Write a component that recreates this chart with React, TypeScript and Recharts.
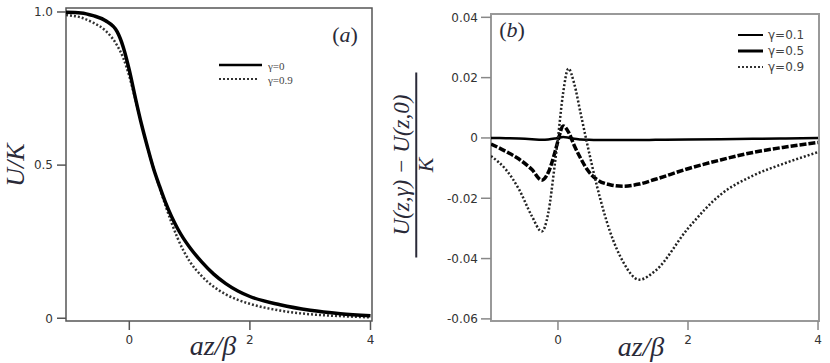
import { LineChart, Line, XAxis, YAxis, ReferenceArea } from "recharts";

// panel (a): U/K against az/beta
const zA = [-1.05, -0.8, -0.6, -0.4, -0.2, -0.1, 0, 0.1, 0.2, 0.3, 0.4, 0.5, 0.6, 0.7, 0.8, 0.9, 1.0, 1.2, 1.4, 1.6, 1.8, 2.0, 2.5, 3.0, 3.5, 4.0];
const uGamma0 = [0.999, 0.997, 0.988, 0.972, 0.935, 0.885, 0.81, 0.72, 0.635, 0.56, 0.49, 0.432, 0.378, 0.332, 0.293, 0.26, 0.232, 0.184, 0.144, 0.113, 0.089, 0.071, 0.044, 0.026, 0.015, 0.0085];
const uGamma09 = [0.99, 0.982, 0.965, 0.94, 0.89, 0.85, 0.79, 0.715, 0.635, 0.56, 0.49, 0.428, 0.368, 0.312, 0.262, 0.22, 0.186, 0.138, 0.103, 0.078, 0.06, 0.047, 0.025, 0.013, 0.007, 0.003];

// panel (b): (U(z,g) - U(z,0)) / K
const zB = [-1.03, -0.8, -0.6, -0.4, -0.25, -0.15, -0.05, 0, 0.08, 0.16, 0.25, 0.35, 0.45, 0.6, 0.8, 1.0, 1.25, 1.5, 2.0, 2.5, 3.0, 3.5, 4.0];
const dGamma01 = [0, -0.0001, -0.0002, -0.0004, -0.0006, -0.0005, -0.0002, 0, 0.0003, 0.0001, -0.0003, -0.0005, -0.0006, -0.0007, -0.0007, -0.0007, -0.0007, -0.0006, -0.0005, -0.0004, -0.0003, -0.0002, 0];
const dGamma05 = [-0.002, -0.0045, -0.007, -0.0105, -0.014, -0.0115, -0.005, -0.001, 0.004, 0.002, -0.0025, -0.0068, -0.0105, -0.0138, -0.0155, -0.016, -0.0153, -0.0137, -0.0102, -0.0073, -0.0048, -0.003, -0.0015];
const dGamma09 = [-0.006, -0.0105, -0.017, -0.026, -0.031, -0.025, -0.009, 0, 0.015, 0.023, 0.018, 0.008, -0.002, -0.016, -0.031, -0.041, -0.047, -0.044, -0.03, -0.0188, -0.0125, -0.0083, -0.0047];

const xTicks = [0, 2, 4];
const yTicksA = [0, 0.5, 1.0];
const yTicksB = [0.04, 0.02, 0, -0.02, -0.04, -0.06];

const dataA = zA.map((z, i) => ({ z, g0: uGamma0[i], g09: uGamma09[i] }));
const dataB = zB.map((z, i) => ({ z, g01: dGamma01[i], g05: dGamma05[i], g09: dGamma09[i] }));

const tickFont = { fill: "#333", fontSize: 12, fontFamily: "DejaVu Sans" };
const mathColor = "#2a2a38";
const mathFont = "'Liberation Serif', serif";

const domA: [number, number] = [-1.05, 4.025];
const rangeA: [number, number] = [-0.009, 1.013];
const domB: [number, number] = [-1.03, 4.015];
const rangeB: [number, number] = [-0.0607, 0.0411];

function Txt({ x, y, size, children, italic, rotate, color, family }: any) {
  return (
    <div
      style={{
        position: "absolute", left: x, top: y, transform: `translate(-50%, -50%) rotate(${rotate || 0}deg)`,
        fontSize: size, fontStyle: italic ? "italic" : "normal", color: color || mathColor,
        fontFamily: family || mathFont, whiteSpace: "nowrap", lineHeight: 1,
      }}
    >
      {children}
    </div>
  );
}

export default function App() {
  return (
    <div style={{ position: "absolute", left: 0, top: 0, width: 830, height: 363, background: "#fff", overflow: "hidden" }}>
      <div style={{ position: "absolute", left: 0, top: 0 }}>
        <LineChart width={415} height={363} data={dataA} margin={{ top: 8, right: 43, bottom: 12, left: 0 }}>
          <XAxis
            dataKey="z" type="number" domain={domA} allowDataOverflow ticks={xTicks} height={30}
            axisLine={false} tickSize={9} tickMargin={5} tickLine={{ stroke: "#555", strokeWidth: 1.5 }} tick={tickFont}
          />
          <YAxis
            type="number" domain={rangeA} allowDataOverflow ticks={yTicksA} width={66}
            tickFormatter={(v) => (v === 0 ? "0" : v.toFixed(1))}
            axisLine={false} tickSize={9} tickMargin={4} tickLine={{ stroke: "#555", strokeWidth: 1.5 }} tick={tickFont}
          />
          <ReferenceArea x1={domA[0]} x2={domA[1]} y1={rangeA[0]} y2={rangeA[1]} fill="none" stroke="#555" strokeWidth={1.5} fillOpacity={0} />
          <Line type="monotone" dataKey="g09" stroke="#333" strokeWidth={2.5} strokeDasharray="2 2" dot={false} isAnimationActive={false} />
          <Line type="monotone" dataKey="g0" stroke="#000" strokeWidth={3.5} dot={false} isAnimationActive={false} />
        </LineChart>
      </div>
      <div style={{ position: "absolute", left: 415, top: 0 }}>
        <LineChart width={415} height={363} data={dataB} margin={{ top: 14, right: 11, bottom: 12, left: 0 }}>
          <XAxis
            dataKey="z" type="number" domain={domB} allowDataOverflow ticks={xTicks} height={30}
            axisLine={false} tickSize={9} tickMargin={5} tickLine={{ stroke: "#888", strokeWidth: 1.5 }} tick={tickFont}
          />
          <YAxis
            type="number" domain={rangeB} allowDataOverflow ticks={yTicksB} width={76}
            tickFormatter={(v) => (v === 0 ? "0" : v.toFixed(2))}
            axisLine={false} tickSize={10} tickMargin={3} tickLine={{ stroke: "#888", strokeWidth: 1.5 }} tick={tickFont}
          />
          <ReferenceArea x1={domB[0]} x2={domB[1]} y1={rangeB[0]} y2={rangeB[1]} fill="none" stroke="#999" strokeWidth={2} fillOpacity={0} />
          <Line type="monotone" dataKey="g01" stroke="#000" strokeWidth={2.5} dot={false} isAnimationActive={false} />
          <Line type="monotone" dataKey="g05" stroke="#000" strokeWidth={3.5} strokeDasharray="7 2" dot={false} isAnimationActive={false} />
          <Line type="monotone" dataKey="g09" stroke="#222" strokeWidth={2.5} strokeDasharray="2 2" dot={false} isAnimationActive={false} />
        </LineChart>
      </div>

      {/* legend line samples */}
      <svg style={{ position: "absolute", left: 0, top: 0 }} width={830} height={363}>
        <line x1={219} x2={262} y1={65} y2={65} stroke="#000" strokeWidth={2.5} />
        <line x1={219} x2={257} y1={79} y2={79} stroke="#333" strokeWidth={2} strokeDasharray="2 2" />
        <line x1={738} x2={763} y1={35} y2={35} stroke="#000" strokeWidth={2} />
        <line x1={738} x2={763} y1={51} y2={51} stroke="#000" strokeWidth={3} />
        <line x1={738} x2={763} y1={67} y2={67} stroke="#333" strokeWidth={2} strokeDasharray="2 2" />
      </svg>
      <div style={{ position: "absolute", left: 268, top: 59, fontSize: 11, fontFamily: mathFont, color: "#444", lineHeight: "14px" }}>
        <div>γ=0</div>
        <div>γ=0.9</div>
      </div>
      <div style={{ position: "absolute", left: 768, top: 27, fontSize: 12, fontFamily: "DejaVu Sans", color: "#444", lineHeight: "16px" }}>
        <div>γ=0.1</div>
        <div>γ=0.5</div>
        <div>γ=0.9</div>
      </div>

      {/* panel labels */}
      <Txt x={345} y={35} size={22}>(<i>a</i>)</Txt>
      <Txt x={512} y={30} size={22}>(<i>b</i>)</Txt>

      {/* axis titles */}
      <Txt x={16} y={165} size={26} italic rotate={-90}>U/K</Txt>
      <Txt x={213} y={346} size={28} italic>az/β</Txt>
      <Txt x={641} y={347} size={28} italic>az/β</Txt>
      <div
        style={{
          position: "absolute", left: 412, top: 165, transform: "translate(-50%, -50%) rotate(-90deg)",
          display: "flex", flexDirection: "column", alignItems: "center", color: mathColor, fontFamily: mathFont,
          fontStyle: "italic", whiteSpace: "nowrap",
        }}
      >
        <div style={{ fontSize: 23, lineHeight: "26px" }}>U(z,γ) − U(z,0)</div>
        <div style={{ width: 185, height: 1.5, background: mathColor }} />
        <div style={{ fontSize: 22, lineHeight: "18px" }}>K</div>
      </div>
    </div>
  );
}
